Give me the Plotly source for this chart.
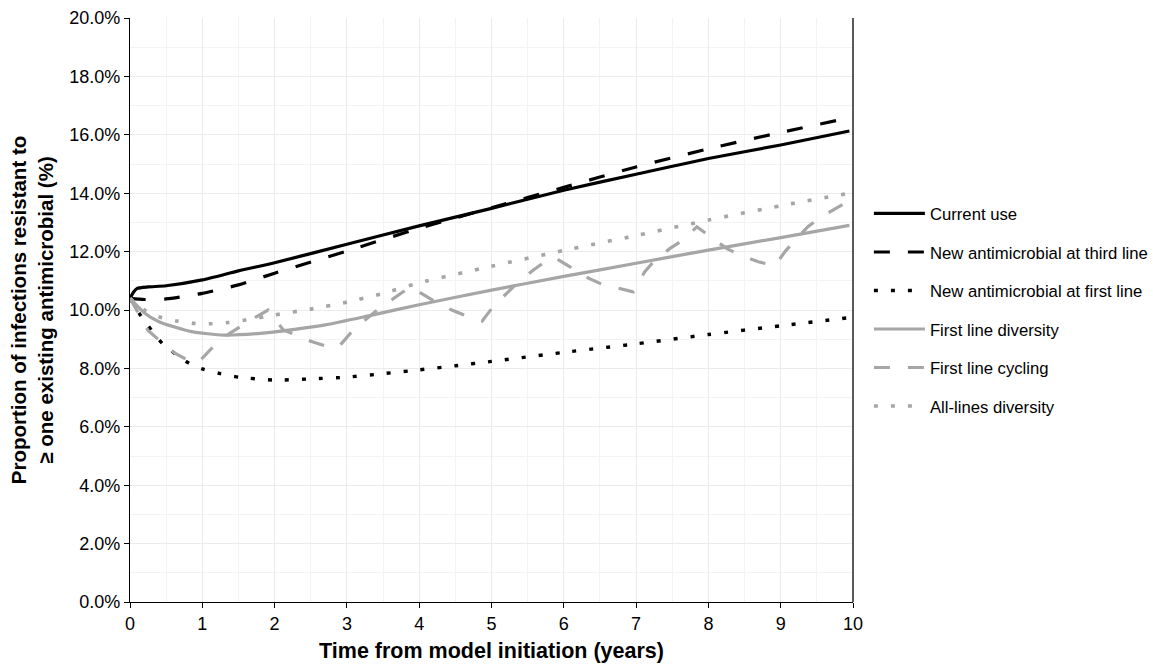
import plotly.graph_objects as go

# ---- data (years, % resistant) ----
t_current = [0, 0.05, 0.1, 0.25, 0.5, 1.0, 1.5, 2.0, 3.0, 4.0, 5.0, 6.0, 7.0, 8.0, 9.0, 9.95]
v_current = [10.4, 10.62, 10.74, 10.79, 10.83, 11.03, 11.34, 11.62, 12.25, 12.88, 13.48, 14.1, 14.65, 15.19, 15.65, 16.13]

t_third = [0, 0.2, 0.5, 1.0, 1.5, 2.0, 3.0, 4.0, 4.5, 5.0, 6.0, 7.0, 8.0, 9.0, 9.95]
v_third = [10.4, 10.36, 10.38, 10.57, 10.86, 11.26, 12.02, 12.8, 13.15, 13.5, 14.2, 14.9, 15.52, 16.08, 16.58]

t_first = [0, 0.15, 0.45, 0.8, 1.0, 1.25, 1.5, 2.0, 2.5, 3.0, 3.5, 4.0, 4.5, 5.0, 6.0, 7.0, 8.0, 9.0, 9.95]
v_first = [10.4, 9.8, 8.85, 8.2, 7.98, 7.82, 7.7, 7.6, 7.64, 7.7, 7.82, 7.95, 8.09, 8.24, 8.55, 8.84, 9.16, 9.46, 9.74]

t_diversity = [0, 0.2, 0.4, 0.85, 1.3, 1.8, 2.25, 2.7, 3.3, 4.0, 5.0, 6.0, 7.0, 8.0, 9.0, 9.95]
v_diversity = [10.4, 9.9, 9.6, 9.26, 9.14, 9.2, 9.33, 9.49, 9.8, 10.18, 10.68, 11.15, 11.6, 12.05, 12.48, 12.9]

t_cycling = [0, 0.25, 0.45, 0.62, 0.85, 0.95, 1.15, 1.38, 1.6, 1.75, 1.91, 2.12, 2.51, 2.74, 2.88, 3.09, 3.39, 3.66,
             3.88, 4.03, 4.22, 4.45, 4.66, 4.87, 5.02, 5.21, 5.35, 5.58, 5.74, 5.87, 6.11, 6.34, 6.52, 6.78,
             6.96, 7.12, 7.26, 7.47, 7.65, 7.84, 8.02, 8.25, 8.44, 8.69, 8.92, 9.06, 9.22, 9.38, 9.57, 9.77, 9.95]
v_cycling = [10.4, 9.3, 8.86, 8.52, 8.22, 8.22, 8.74, 9.2, 9.55, 9.77, 10.0, 9.32, 8.92, 8.74, 8.72, 9.32, 9.94, 10.42,
             10.8, 10.57, 10.28, 10.0, 9.79, 9.62, 10.11, 10.57, 10.91, 11.37, 11.65, 11.8, 11.43, 11.09, 10.89, 10.74,
             10.62, 11.31, 11.71, 12.11, 12.4, 12.85, 12.51, 12.11, 11.88, 11.65, 11.52, 12.0, 12.45, 12.86, 13.2, 13.48, 13.75]

t_alllines = [0, 0.2, 0.4, 0.65, 0.9, 1.13, 1.36, 1.6, 2.0, 2.5, 3.0, 3.5, 4.0, 5.0, 6.0, 7.0, 8.0, 9.0, 9.95]
v_alllines = [10.4, 10.0, 9.77, 9.62, 9.54, 9.53, 9.57, 9.66, 9.83, 10.03, 10.27, 10.57, 10.93, 11.5, 12.04, 12.55, 13.08, 13.57, 14.0]

series_names = ["Current use", "New antimicrobial at third line", "New antimicrobial at first line",
                "First line diversity", "First line cycling", "All-lines diversity"]

x_ticks = list(range(0, 11))
y_ticks = [0, 2, 4, 6, 8, 10, 12, 14, 16, 18, 20]

BLACK = "#000000"
GREY = "#a6a6a6"
DASH = "16px,18px"
DOT = "4px,13px"

styles = [
    (t_current, v_current, BLACK, "solid", "spline", 3.2),
    (t_third, v_third, BLACK, DASH, "spline", 3.2),
    (t_first, v_first, BLACK, DOT, "spline", 3.4),
    (t_diversity, v_diversity, GREY, "solid", "spline", 3.2),
    (t_cycling, v_cycling, GREY, DASH, "linear", 3.2),
    (t_alllines, v_alllines, GREY, DOT, "spline", 3.6),
]

fig = go.Figure()
for i, (name, (tx, vy, col, dash, shp, w)) in enumerate(zip(series_names, styles)):
    line = dict(color=col, width=w, dash=dash, shape=shp)
    if shp == "spline":
        line["smoothing"] = 0.6
    fig.add_trace(go.Scatter(x=tx, y=vy, mode="lines", name=name, legendgroup=f"g{i}", line=line))

FONT = "Liberation Sans, Arial, sans-serif"
fig.update_layout(
    width=1153, height=666,
    margin=dict(l=130, r=300, t=18, b=64, autoexpand=False),
    paper_bgcolor="white", plot_bgcolor="white",
    font=dict(family=FONT, size=18, color="black"),
    showlegend=True,
    legend=dict(x=1.022, y=0.695, xanchor="left", yanchor="top",
                font=dict(size=16.7, color="black"), tracegroupgap=13.8,
                bgcolor="rgba(0,0,0,0)", itemwidth=51),
    xaxis=dict(
        range=[0, 10], tickvals=x_ticks, ticktext=[str(v) for v in x_ticks],
        showgrid=True, gridcolor="#ebebeb", gridwidth=1,
        minor=dict(dtick=0.5, showgrid=True, gridcolor="#f3f3f3", gridwidth=1),
        showline=True, linecolor="black", linewidth=1.3,
        ticks="outside", ticklen=5, tickcolor="black",
        zeroline=False, tickfont=dict(size=18, color="black"), automargin=False,
        title=dict(text="<b>Time from model initiation (years)</b>", font=dict(size=21.5, color="black"), standoff=10),
    ),
    yaxis=dict(
        range=[0, 20], tickvals=y_ticks, ticktext=[f"{v:.1f}%" for v in y_ticks],
        showgrid=True, gridcolor="#ebebeb", gridwidth=1,
        minor=dict(dtick=1, showgrid=True, gridcolor="#f3f3f3", gridwidth=1),
        showline=True, linecolor="black", linewidth=1.3,
        ticks="outside", ticklen=5, tickcolor="black",
        zeroline=False, tickfont=dict(size=18, color="black"), automargin=False,
        title=dict(text="<b>Proportion of infections resistant to<br>≥ one existing antimicrobial (%)</b>",
                   font=dict(size=20.5, color="black"), standoff=10),
    ),
)
fig.add_shape(type="line", xref="paper", yref="paper", x0=1, x1=1, y0=0, y1=1,
              line=dict(color="black", width=1.3))

fig.write_html("out.html", config={"displayModeBar": False},
               post_script="document.body.style.margin='0px';")
